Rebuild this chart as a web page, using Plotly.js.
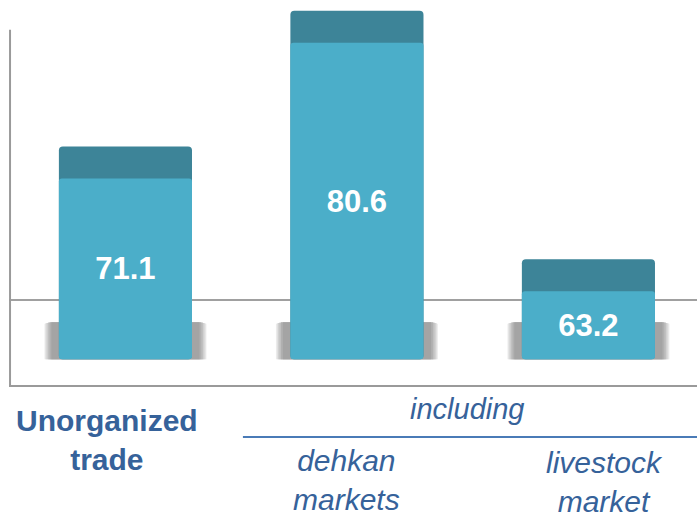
<!DOCTYPE html>
<html>
<head>
<meta charset="utf-8">
<script src="https://cdn.plot.ly/plotly-3.0.1.min.js"></script>
<style>
  html, body { margin: 0; padding: 0; background: #ffffff; }
  #chart { width: 697px; height: 518px; }
</style>
</head>
<body>
<div id="chart"></div>
<script>
// ---- data ----
const categories = ["Unorganized trade", "dehkan markets", "livestock market"];
const values = [71.1, 80.6, 63.2];
const valueLabels = ["71.1", "80.6", "63.2"];
const categoryLabels = ["<b>Unorganized<br>trade</b>", "<i>dehkan<br>markets</i>", "<i>livestock<br>market</i>"];
const groupLabel = "<i>including</i>";

// ---- style constants ----
const Y_MIN = 54.4, Y_MAX = 81.36, AXIS_TOP = 79.27;
const BASE = 56.2;        // visual floor of the bars
const TOPBAND = 2.24;     // depth of the dark top face (value units)
const SHADOW_H = 2.6;     // height of the drop shadow
const FRONT = "#4BAEC9";
const TOP = "#3D8498";
const TEXT_BLUE = "#36629A";
const idx = categories.map((c, i) => i);

// soft shadow built from stacked layers (outer -> inner)
const shadowLayers = [
  { w: 0.700, h: 0.96, c: "#eeeeee" },
  { w: 0.692, h: 0.97, c: "#e0e0e0" },
  { w: 0.682, h: 0.98, c: "#d0d0d0" },
  { w: 0.670, h: 0.99, c: "#c0c0c0" },
  { w: 0.656, h: 1.00, c: "#b0b0b0" },
  { w: 0.640, h: 1.00, c: "#a4a4a4" }
];

const traces = shadowLayers.map(s => ({
  type: "bar", x: idx, y: idx.map(() => SHADOW_H * s.h), base: BASE,
  width: s.w, marker: { color: s.c, line: { width: 0 } },
  hoverinfo: "skip", showlegend: false
}));

traces.push({ // dark top face (full bar)
  type: "bar", x: idx, y: values.map(v => v - BASE), base: BASE,
  width: 0.575, marker: { color: TOP, cornerradius: 4, line: { width: 0 } },
  hoverinfo: "skip", showlegend: false
});
traces.push({ // light front face
  type: "bar", x: idx, y: values.map(v => v - BASE - TOPBAND), base: BASE,
  width: 0.575, marker: { color: FRONT, cornerradius: 3, line: { width: 0 } },
  text: valueLabels, textposition: "inside", insidetextanchor: "middle",
  textangle: 0, constraintext: "none",
  textfont: { family: "Liberation Sans, Arial, sans-serif", size: 31, color: "#ffffff", weight: "bold" },
  hoverinfo: "skip", showlegend: false
});

const labelX = [0, 1, 2];
const labelShift = [-18, -10, 16];
const labelY = [-0.155, -0.268, -0.272];
const H = 385; // plot height in px
const toPaper = f => f * 355 / H;

const annotations = categoryLabels.map((t, i) => ({
  x: labelX[i], xref: "x", xshift: labelShift[i],
  y: toPaper(labelY[i]), yref: "paper", yanchor: "middle", xanchor: "center",
  text: t, showarrow: false,
  font: { family: "Liberation Sans, Arial, sans-serif", size: 30, color: TEXT_BLUE }
}));
annotations.push({
  x: 0.666, xref: "paper", y: toPaper(-0.068), yref: "paper",
  xanchor: "center", yanchor: "middle", text: groupLabel, showarrow: false,
  font: { family: "Liberation Sans, Arial, sans-serif", size: 29, color: TEXT_BLUE }
});

const layout = {
  width: 697, height: 518,
  margin: { l: 9, r: 0, t: 0, b: 133 },
  paper_bgcolor: "#ffffff", plot_bgcolor: "#ffffff",
  barmode: "overlay",
  showlegend: false,
  xaxis: {
    range: [-0.503, 2.469], showticklabels: false, ticks: "",
    showgrid: false, zeroline: false,
    showline: true, linecolor: "#9a9a9a", linewidth: 2
  },
  yaxis: {
    range: [Y_MIN, Y_MAX], showticklabels: false, ticks: "",
    showgrid: false, zeroline: false, showline: false
  },
  shapes: [
    { type: "line", layer: "below", xref: "paper", x0: 0, x1: 1, yref: "y", y0: 60.36, y1: 60.36,
      line: { color: "#a0a0a0", width: 2 } },
    { type: "line", layer: "above", xref: "paper", x0: 0.0015, x1: 0.0015, yref: "y", y0: Y_MIN, y1: AXIS_TOP,
      line: { color: "#9a9a9a", width: 2 } },
    { type: "line", xref: "paper", x0: 0.340, x1: 1, yref: "paper", y0: toPaper(-0.1465), y1: toPaper(-0.1465),
      line: { color: "#4A7BB7", width: 2 } }
  ],
  annotations: annotations
};

Plotly.newPlot("chart", traces, layout, { displayModeBar: false, staticPlot: true });
</script>
</body>
</html>
